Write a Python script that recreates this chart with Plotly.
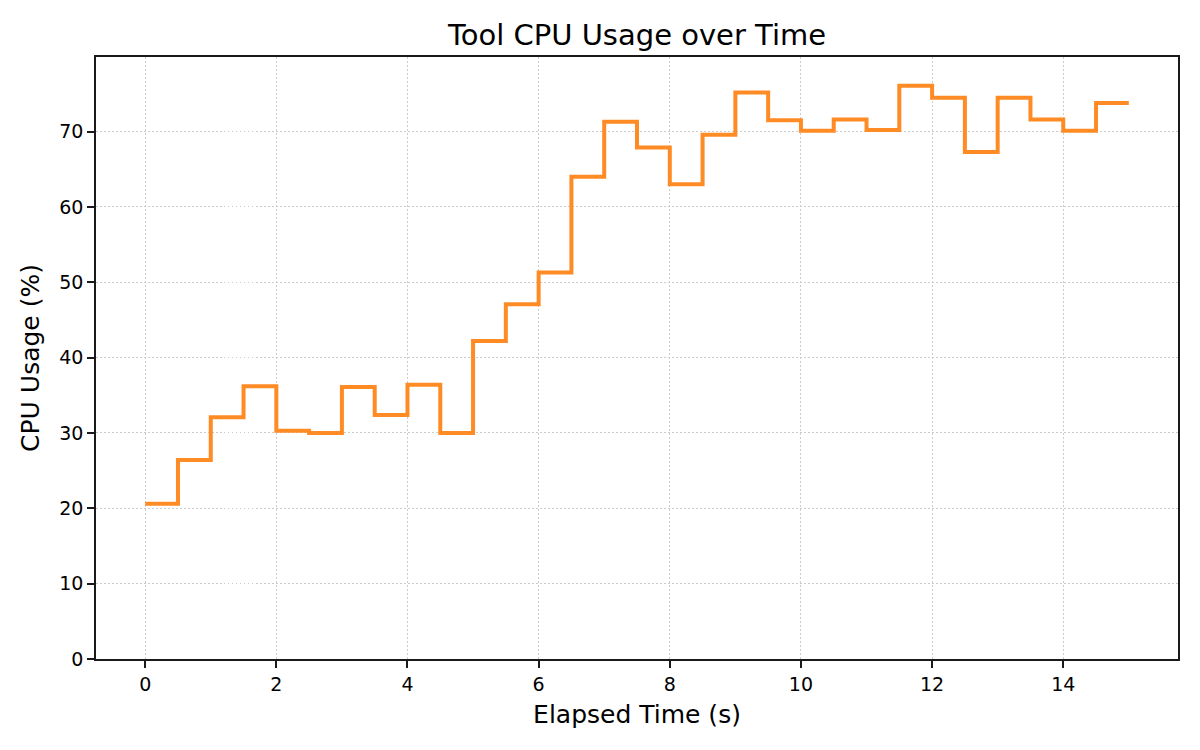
import plotly.graph_objects as go

# sampling times (s) and measured CPU usage of the tool (%)
elapsed_s = [0.0, 0.5, 1.0, 1.5, 2.0, 2.5, 3.0, 3.5, 4.0, 4.5,
             5.0, 5.5, 6.0, 6.5, 7.0, 7.5, 8.0, 8.5, 9.0, 9.5,
             10.0, 10.5, 11.0, 11.5, 12.0, 12.5, 13.0, 13.5, 14.0, 14.5, 15.0]
cpu_usage = [20.6, 26.4, 32.1, 36.2, 30.3, 30.0, 36.1, 32.4, 36.4, 30.0,
             42.2, 47.1, 51.3, 64.0, 71.3, 67.9, 63.0, 69.6, 75.2, 71.5,
             70.1, 71.6, 70.2, 76.1, 74.5, 67.3, 74.5, 71.6, 70.1, 73.8, 73.8]

x_ticks = [0, 2, 4, 6, 8, 10, 12, 14]
y_ticks = [0, 10, 20, 30, 40, 50, 60, 70]

LINE_COLOR = "#ff8b24"
FONT = "DejaVu Sans"

fig = go.Figure()

fig.add_trace(go.Scatter(
    x=elapsed_s,
    y=cpu_usage,
    mode="lines",
    line=dict(color=LINE_COLOR, width=4, shape="hv"),
    showlegend=False,
))

# matplotlib-ish axes: full frame, outside ticks, dotted grid
axis_style = dict(
    showline=True,
    mirror=True,
    linecolor="#1a1a1a",
    linewidth=1.6,
    ticks="outside",
    ticklen=7,
    tickwidth=1.6,
    tickcolor="#1a1a1a",
    tickfont=dict(family=FONT, size=19, color="black"),
    showgrid=True,
    gridcolor="#cccccc",
    griddash="1.5px,2.5px",
    gridwidth=1.3,
    zeroline=False,
    title_font=dict(family=FONT, size=25, color="black"),
)

fig.update_xaxes(
    axis_style,
    range=[-0.75, 15.75],
    tickvals=x_ticks,
    title_text="Elapsed Time (s)",
    title_standoff=12,
)
fig.update_yaxes(
    axis_style,
    range=[0, max(cpu_usage) * 1.05],
    tickvals=y_ticks,
    title_text="CPU Usage (%)",
    title_standoff=12,
)

# the page body adds an 8px offset, so margins are shifted to compensate
fig.update_layout(
    width=1200,
    height=750,
    margin=dict(l=88, r=30, t=49, b=99),
    paper_bgcolor="white",
    plot_bgcolor="white",
    font=dict(family=FONT, color="black"),
    title=dict(
        text="Tool CPU Usage over Time",
        font=dict(family=FONT, size=29, color="black"),
        x=0.5,
        xref="paper",
        xanchor="center",
        y=1 - 27 / 750,
        yanchor="middle",
    ),
)

fig.write_html("out.html")
